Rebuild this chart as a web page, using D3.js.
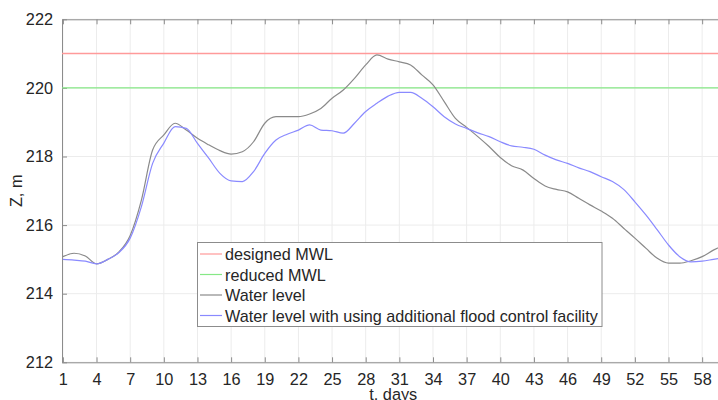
<!DOCTYPE html>
<html>
<head>
<meta charset="utf-8">
<script src="https://cdn.jsdelivr.net/npm/d3@7"></script>
<style>
  html, body { margin: 0; padding: 0; background: #fff; }
  svg { display: block; font-family: "Liberation Sans", Arial, Helvetica, sans-serif; }
</style>
</head>
<body>
<svg id="chart" width="718" height="400"></svg>
<script>
const days = d3.range(1, 61);
const waterLevel = [
  215.08, 215.18, 215.10, 214.87, 215.00, 215.22, 215.70, 216.73, 218.19, 218.63,
  218.97, 218.77, 218.53, 218.34, 218.17, 218.07, 218.14, 218.43, 218.97, 219.16,
  219.16, 219.16, 219.24, 219.40, 219.70, 219.94, 220.28, 220.67, 220.96, 220.84,
  220.76, 220.67, 220.38, 220.09, 219.60, 219.11, 218.85, 218.58, 218.29, 217.97,
  217.73, 217.61, 217.36, 217.14, 217.04, 216.97, 216.78, 216.59, 216.41, 216.20,
  215.91, 215.62, 215.32, 215.03, 214.89, 214.89, 214.96, 215.08, 215.27, 215.42
];
const waterLevelFacility = [
  215.00, 214.98, 214.95, 214.87, 215.00, 215.20, 215.62, 216.54, 217.80, 218.39,
  218.87, 218.82, 218.38, 217.95, 217.51, 217.29, 217.27, 217.56, 218.09, 218.48,
  218.65, 218.77, 218.92, 218.77, 218.75, 218.68, 218.97, 219.31, 219.55, 219.76,
  219.87, 219.87, 219.70, 219.45, 219.16, 218.95, 218.82, 218.69, 218.58, 218.43,
  218.31, 218.27, 218.21, 218.04, 217.90, 217.80, 217.67, 217.56, 217.41, 217.27,
  217.04, 216.68, 216.29, 215.86, 215.42, 215.08, 214.93, 214.95, 215.00, 215.05
];
const designedMWL = 221;
const reducedMWL = 220;
const xTicks = [1, 4, 7, 10, 13, 16, 19, 22, 25, 28, 31, 34, 37, 40, 43, 46, 49, 52, 55, 58];
const yTicks = [212, 214, 216, 218, 220, 222];
const legendLabels = ["designed MWL", "reduced MWL", "Water level", "Water level with using additional flood control facility"];
const seriesColors = ["#ff9a9a", "#86e886", "#8a8a8a", "#8a8aff"];

const W = 718, H = 400;
const pLeft = 62, pTop = 19.3, pBottom = 362.3;
const pxPerDay = 11.215;
const x = d3.scaleLinear().domain([0.92, 60]).range([pLeft, pLeft + (60 - 0.92) * pxPerDay]);
const y = d3.scaleLinear().domain([212, 222]).range([pBottom, pTop]);
const pRight = x.range()[1];

const svg = d3.select("#chart");
const textColor = "#262626";
const axisColor = "#8c8c8c";

svg.append("defs").append("clipPath").attr("id", "plotclip")
  .append("rect").attr("x", pLeft).attr("y", pTop).attr("width", pRight - pLeft).attr("height", pBottom - pTop);

// grid
const grid = svg.append("g");
grid.selectAll("line.vx").data(xTicks).join("line")
  .attr("x1", d => x(d)).attr("x2", d => x(d)).attr("y1", pTop).attr("y2", pBottom)
  .attr("stroke", "#ececec").attr("stroke-width", 1);
grid.selectAll("line.hy").data(yTicks).join("line")
  .attr("x1", pLeft).attr("x2", pRight).attr("y1", d => y(d)).attr("y2", d => y(d))
  .attr("stroke", "#ececec").attr("stroke-width", 1);

// axes
const xAxisB = d3.axisBottom(x).tickValues(xTicks).tickSizeInner(-5).tickSizeOuter(0).tickPadding(11);
const gxb = svg.append("g").attr("transform", `translate(0,${pBottom})`).call(xAxisB);
const xAxisT = d3.axisTop(x).tickValues(xTicks).tickSizeInner(-5).tickSizeOuter(0).tickFormat("");
const gxt = svg.append("g").attr("transform", `translate(0,${pTop})`).call(xAxisT);
const yAxis = d3.axisLeft(y).tickValues(yTicks).tickSizeInner(-5).tickSizeOuter(0).tickPadding(9);
const gy = svg.append("g").attr("transform", `translate(${pLeft},0)`).call(yAxis);
[gxb, gxt, gy].forEach(g => {
  g.select(".domain").attr("stroke", axisColor).attr("stroke-width", 1);
  g.selectAll(".tick line").attr("stroke", axisColor);
  g.selectAll(".tick text").attr("fill", textColor).attr("font-size", 16.3)
    .attr("font-family", "'Liberation Sans', Arial, sans-serif");
});

// lines
const plot = svg.append("g").attr("clip-path", "url(#plotclip)");
plot.append("line").attr("x1", pLeft).attr("x2", pRight).attr("y1", y(designedMWL)).attr("y2", y(designedMWL))
  .attr("stroke", seriesColors[0]).attr("stroke-width", 1.5);
plot.append("line").attr("x1", pLeft).attr("x2", pRight).attr("y1", y(reducedMWL)).attr("y2", y(reducedMWL))
  .attr("stroke", seriesColors[1]).attr("stroke-width", 1.2);
const line = d3.line().x((d, i) => x(days[i])).y(d => y(d)).curve(d3.curveMonotoneX);
plot.append("path").datum(waterLevel).attr("d", line).attr("fill", "none")
  .attr("stroke", seriesColors[2]).attr("stroke-width", 1.2);
plot.append("path").datum(waterLevelFacility).attr("d", line).attr("fill", "none")
  .attr("stroke", seriesColors[3]).attr("stroke-width", 1.2);

// axis labels
svg.append("text").attr("x", (pLeft + pRight) / 2).attr("y", 399.5).attr("text-anchor", "middle")
  .attr("font-size", 16.3).attr("fill", textColor).text("t, days");
svg.append("text").attr("transform", `translate(16,${(pTop + pBottom) / 2}) rotate(-90)`)
  .attr("text-anchor", "middle").attr("dominant-baseline", "central")
  .attr("font-size", 16.3).attr("fill", textColor).text("Z, m");

// legend
const lg = svg.append("g");
lg.append("rect").attr("x", 197.5).attr("y", 242.5).attr("width", 404.5).attr("height", 84)
  .attr("fill", "#fff").attr("stroke", "#8c8c8c").attr("stroke-width", 1);
const rowY = [254, 274.5, 295, 315.5];
legendLabels.forEach((t, i) => {
  lg.append("line").attr("x1", 200).attr("x2", 222).attr("y1", rowY[i]).attr("y2", rowY[i])
    .attr("stroke", seriesColors[i]).attr("stroke-width", 1.2);
  lg.append("text").attr("x", 225).attr("y", rowY[i]).attr("dominant-baseline", "central")
    .attr("font-size", 16.2).attr("fill", textColor).text(t);
});
</script>
</body>
</html>
